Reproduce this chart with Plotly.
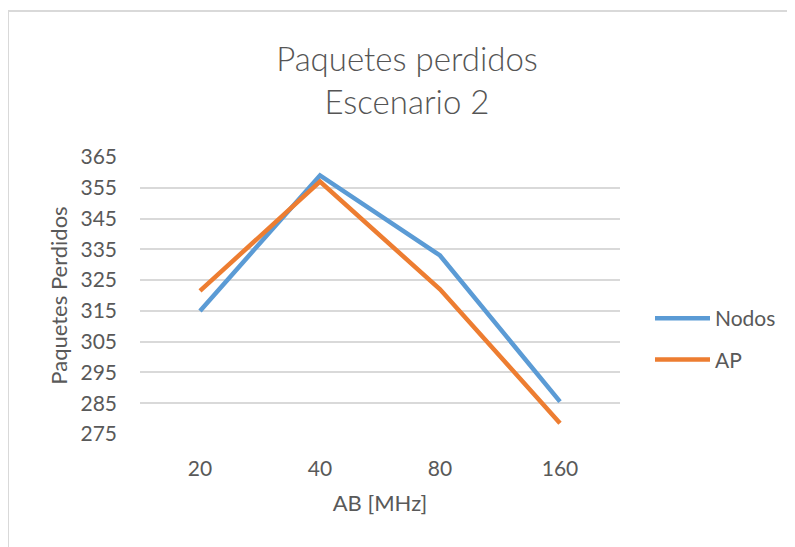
import plotly.graph_objects as go

categories = ["20", "40", "80", "160"]
nodos = [315, 359, 333, 285.5]
ap = [321.5, 357, 322, 278.5]
y_ticks = [275, 285, 295, 305, 315, 325, 335, 345, 355, 365]

FONT = "Lato"
TXT = "#595959"

fig = go.Figure()
fig.add_trace(go.Scatter(x=categories, y=nodos, mode="lines", name="Nodos",
                         legendgroup="a",
                         line=dict(color="#5B9BD5", width=4.5)))
fig.add_trace(go.Scatter(x=categories, y=ap, mode="lines", name="AP",
                         legendgroup="b",
                         line=dict(color="#ED7D31", width=4.5)))

# plot area in figure pixels (page has an 8px body offset)
L, R, T, B = 132, 612, 149, 426
W, H = 795, 547
pw = R - L
ph = B - T

def px2paper_x(px):
    return (px - L) / pw

def px2paper_y(py):
    return (B - py) / ph

fig.update_layout(
    width=W, height=H,
    margin=dict(l=L, r=W - R, t=T, b=H - B),
    paper_bgcolor="white", plot_bgcolor="white",
    font=dict(family=FONT, color=TXT, size=18),
    title=dict(text="Paquetes perdidos<br>Escenario 2",
               x=px2paper_x(399), xanchor="center", xref="paper",
               y=1 - 63 / H, yanchor="middle",
               font=dict(family=FONT, size=33, color="#555555", weight=300)),
    showlegend=True,
    legend=dict(x=px2paper_x(642), y=px2paper_y(290), xanchor="left", yanchor="top",
                font=dict(family=FONT, size=21, color=TXT),
                traceorder="grouped", tracegroupgap=11,
                bgcolor="rgba(0,0,0,0)", itemwidth=55),
    xaxis=dict(type="category", categoryorder="array", categoryarray=categories,
               range=[-0.5, 3.5], showgrid=False, zeroline=False, showline=False,
               ticks="", ticklabelstandoff=20,
               tickfont=dict(family=FONT, size=21, color=TXT),
               title=dict(text="AB [MHz]", font=dict(family=FONT, size=22, color=TXT),
                          standoff=16)),
    yaxis=dict(range=[275, 365], tickvals=y_ticks, ticktext=[str(v) for v in y_ticks],
               showgrid=True, gridcolor="#D9D9D9", gridwidth=1.5, zeroline=False,
               showline=False, ticks="", ticklabelstandoff=22,
               tickfont=dict(family=FONT, size=21, color=TXT),
               title=dict(text="Paquetes Perdidos", font=dict(family=FONT, size=22, color=TXT),
                          standoff=6)),
    shapes=[dict(type="rect", xref="paper", yref="paper",
                 x0=px2paper_x(0), x1=px2paper_x(W + 20),
                 y0=px2paper_y(H + 20), y1=px2paper_y(3),
                 line=dict(color="#D9D9D9", width=2), fillcolor="rgba(0,0,0,0)",
                 layer="below")],
)

fig.write_html("out.html")
